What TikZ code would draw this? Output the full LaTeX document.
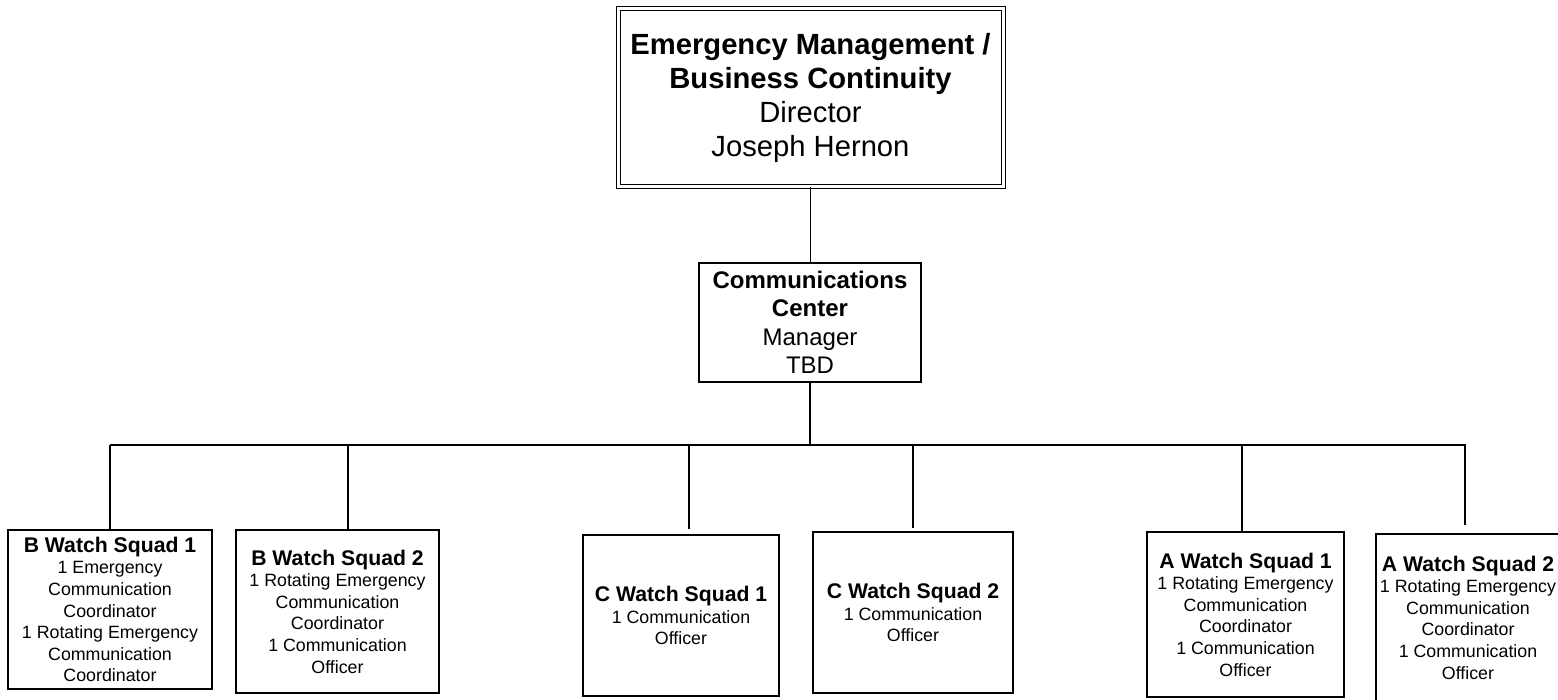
\documentclass[tikz,border=0pt]{standalone}
\usepackage{fontspec}
\setmainfont{Liberation Sans}
\usetikzlibrary{positioning}

\newcommand{\squadtitle}[1]{{\fontsize{10.6}{10.8}\selectfont\bfseries #1}}

\begin{document}
\begin{tikzpicture}[x=0.5pt, y=-0.5pt, line width=0.75pt,
    unit/.style={rectangle, draw, align=center, inner sep=1pt},
    squad/.style={unit, font=\fontsize{8.9}{10.8}\selectfont}
    ]
\useasboundingbox (0,0) rectangle (1558,700);
\clip (0,0) rectangle (1558,700);

\node[unit, double, double distance=1.5pt, line width=0.5pt,
      minimum width=192.5pt, minimum height=89pt,
      font=\fontsize{14.6}{17}\selectfont] (dir) at (810.5,98)
  {\textbf{Emergency Management /}\\\textbf{Business Continuity}\\Director\\Joseph Hernon};
\node[unit, minimum width=111pt, minimum height=59.5pt,
      font=\fontsize{12}{14.2}\selectfont] (cc) at (810,322.5)
  {\textbf{Communications}\\\textbf{Center}\\Manager\\TBD};

% squads
\node[squad, minimum width=102pt, minimum height=79.5pt] (B1) at (110,609.5)
  {\squadtitle{B Watch Squad 1}\\1 Emergency\\Communication\\Coordinator\\1 Rotating Emergency\\Communication\\Coordinator};
\node[squad, minimum width=101.5pt, minimum height=81.5pt] (B2) at (337.5,611.5)
  {\squadtitle{B Watch Squad 2}\\1 Rotating Emergency\\Communication\\Coordinator\\1 Communication\\Officer};
\node[squad, minimum width=98pt, minimum height=80.5pt] (C1) at (681,615.5)
  {\squadtitle{C Watch Squad 1}\\1 Communication\\Officer};
\node[squad, minimum width=100pt, minimum height=80.5pt] (C2) at (913,612.5)
  {\squadtitle{C Watch Squad 2}\\1 Communication\\Officer};
\node[squad, minimum width=98.5pt, minimum height=82.5pt] (A1) at (1245.5,614.5)
  {\squadtitle{A Watch Squad 1}\\1 Rotating Emergency\\Communication\\Coordinator\\1 Communication\\Officer};
\node[squad, minimum width=92pt, minimum height=83.5pt] (A2) at (1468,617.5)
  {\squadtitle{A Watch Squad 2}\\1 Rotating Emergency\\Communication\\Coordinator\\1 Communication\\Officer};

% bus
\coordinate (busL) at (110,445);
\coordinate (busR) at (1466,445);
\draw (dir.south) -- (dir.south |- cc.north);
\draw (cc.south) -- (cc.south |- busL);
\draw (busL) -- (busR);
\foreach \n/\x/\g in {B1/110/0, B2/348/0, C1/689/2.5, C2/913/1.5, A1/1242/0, A2/1465/4}{
  \coordinate (d\n) at (\x,445);
  \draw[shorten >=\g pt] (d\n) -- (d\n |- \n.north);
}
\end{tikzpicture}
\end{document}
